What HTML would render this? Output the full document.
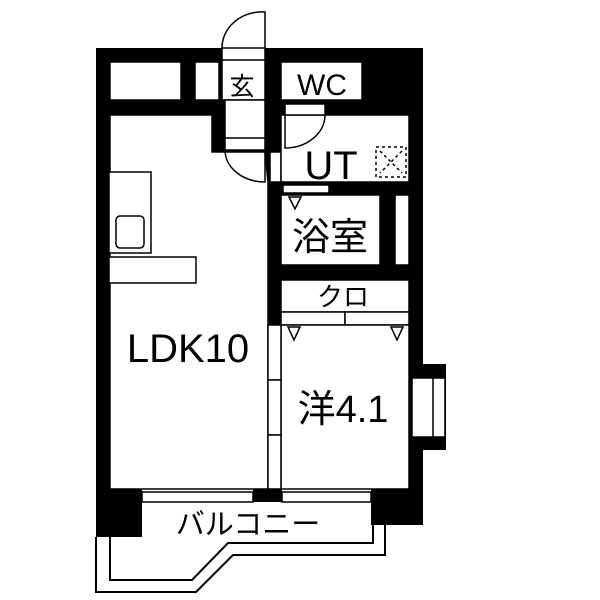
<!DOCTYPE html>
<html><head><meta charset="utf-8"><style>
html,body{margin:0;padding:0;background:#fff;width:600px;height:600px;overflow:hidden}
svg{display:block}
text{font-family:"Liberation Sans","Noto Sans CJK JP",sans-serif;fill:#000}
</style></head><body>
<svg width="600" height="600" viewBox="0 0 600 600" xmlns="http://www.w3.org/2000/svg">
<rect width="600" height="600" fill="#fff"/>
<rect x="96" y="48" width="327" height="441" fill="#000"/>
<g fill="#fff" stroke="#000" stroke-width="1.5">
<rect x="110" y="62" width="71" height="38"/>
<rect x="195" y="62" width="24" height="38"/>
<rect x="222" y="48" width="43" height="52"/>
<rect x="281" y="62" width="81" height="38"/>
<polygon points="110,115 212,115 212,152 265,152 268,182 268,489 110,489"/>
<rect x="225" y="100" width="40" height="50"/>
<rect x="270" y="152" width="11" height="30"/>
<rect x="281" y="115" width="128" height="67"/>
<rect x="285" y="104" width="40" height="11"/>
<rect x="281" y="195" width="99" height="70"/>
<rect x="395" y="195" width="14" height="70"/>
<rect x="283" y="185" width="46" height="8"/>
<rect x="281" y="280" width="128" height="32"/>
<rect x="281" y="312" width="64" height="13"/>
<rect x="345" y="312" width="64" height="13"/>
<rect x="281" y="325" width="128" height="164"/>
<rect x="268" y="325" width="13" height="55"/>
<rect x="268" y="380" width="13" height="55"/>
<rect x="268" y="435" width="13" height="54"/>
</g>
<line x1="222" y1="60" x2="265" y2="60" stroke="#000" stroke-width="1.5"/>
<line x1="225" y1="138" x2="265" y2="138" stroke="#000" stroke-width="1.5"/>
<g fill="none" stroke="#000" stroke-width="1.5">
<path d="M265,48 L265,12 A40,36 0 0 0 222,48"/>
<path d="M265,150 L265,182 A40,32 0 0 1 225,150"/>
<path d="M285,115 L285,148 A40,33 0 0 0 325,115"/>
</g>
<g fill="#fff" stroke="#000" stroke-width="1.5">
<rect x="109" y="172" width="42" height="81"/>
<rect x="116" y="216" width="28" height="32" rx="4"/>
<rect x="109" y="257" width="87" height="26"/>
</g>
<g fill="none" stroke="#000" stroke-width="1.5" stroke-dasharray="3,3">
<rect x="376" y="147" width="30" height="30"/>
<line x1="380" y1="151" x2="402" y2="173"/>
<line x1="402" y1="151" x2="380" y2="173"/>
</g>
<g fill="#fff" stroke="#000" stroke-width="1.5">
<polygon points="289,197 301,197 295,209"/>
<polygon points="288,327 300,327 294,340"/>
<polygon points="391,327 403,327 397,340"/>
</g>
<rect x="409" y="364" width="37" height="86" fill="#000"/>
<rect x="412" y="378" width="33" height="59" fill="#fff" stroke="#000" stroke-width="1.5"/>
<line x1="433" y1="378" x2="433" y2="437" stroke="#000" stroke-width="1.5"/>
<rect x="96" y="489" width="46" height="48" fill="#000"/>
<rect x="253" y="489" width="29" height="13" fill="#000"/>
<rect x="371" y="489" width="52" height="36" fill="#000"/>
<rect x="142" y="492" width="111" height="10" fill="#fff" stroke="#000" stroke-width="1.5"/>
<rect x="282" y="492" width="89" height="10" fill="#fff" stroke="#000" stroke-width="1.5"/>
<g fill="none" stroke="#000" stroke-width="2">
<polyline points="96,537 96,592 196,592 233,555 385,555 385,525"/>
<polyline points="110,537 110,580 192,580 228,543 373,543 373,525"/>
</g>
<text x="242" y="95" font-size="25" text-anchor="middle">玄</text>
<text x="322" y="95" font-size="30" text-anchor="middle">WC</text>
<text x="331" y="179" font-size="40" text-anchor="middle">UT</text>
<text x="330" y="250" font-size="38" text-anchor="middle">浴室</text>
<text x="343" y="306" font-size="26" text-anchor="middle">クロ</text>
<text x="188" y="362" font-size="40" text-anchor="middle">LDK10</text>
<text x="343" y="422" font-size="38" text-anchor="middle">洋4.1</text>
<text x="248" y="534" font-size="29" text-anchor="middle">バルコニー</text>
</svg>
</body></html>
